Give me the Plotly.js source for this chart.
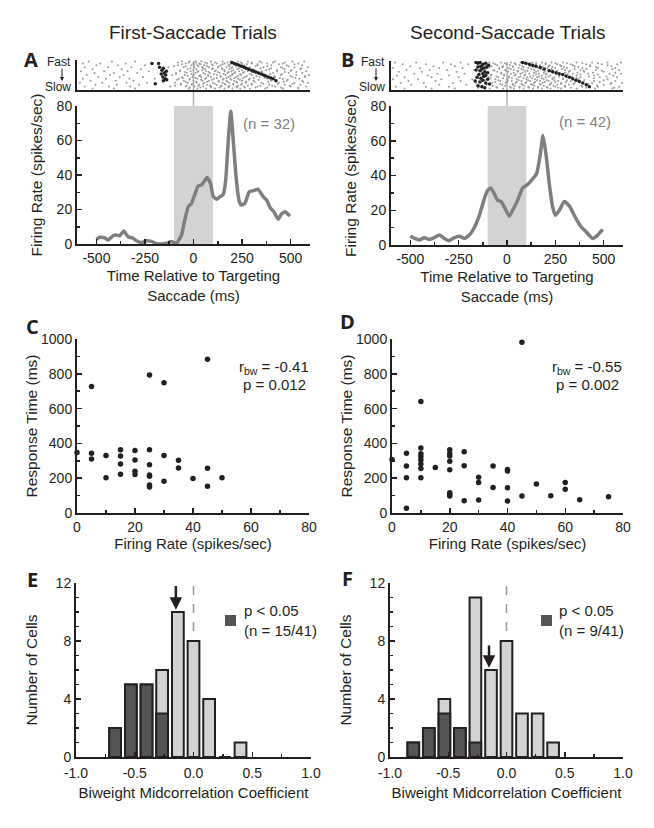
<!DOCTYPE html>
<html><head><meta charset="utf-8">
<script src="https://cdn.plot.ly/plotly-3.0.1.min.js"></script>
<style>body{margin:0;background:#fff}#chart{width:654px;height:828px}</style>
</head><body><div id="chart"></div>
<script>
// ---------- DATA ----------
// PSTH, first-saccade trials (A)
const timeA = [-500,-483,-457,-440,-414,-397,-380,-359,-337,-314,-294,-268,-242,-216,-191,-165,-139,-113,-88,-62,-45,-27,-10,7,24,41,50,70,88,101,119,136,153,165,178,192,206,220,235,247,265,287,308,333,359,376,397,414,436,453,471,497];
const rateA = [2.7,3.9,3.5,2.3,4.8,5.2,4.8,7.5,4.2,3.5,1.9,0.8,1.9,1.5,0.2,0,0.4,1.4,0.4,5.2,13.9,21.6,23.6,28.8,33.6,34.2,35.5,38.6,35,27.8,25.9,27.4,28.8,36,58,77,58,38,25,22.6,23.6,30.3,30.9,31.7,27.4,25.5,20.7,18.7,14.3,17.4,18.7,16.2];
// PSTH, second-saccade trials (B)
const timeB = [-500,-474,-453,-428,-402,-376,-350,-324,-302,-272,-247,-221,-195,-169,-143,-117,-100,-83,-66,-48,-31,-14,12,29,55,81,107,133,153,172,186,202,219,236,250,271,297,322,357,383,409,443,469,495];
const rateB = [5.1,3.6,2.9,4.2,3.2,4.2,5.7,3.8,2.5,4.2,5.1,3.8,5.7,10.1,17.1,26.7,31.4,32.8,29.5,25.7,25.1,21.9,16.6,20,25.7,32.8,34.9,38.1,41,52,63,52,35,21.9,17.1,20,25.1,22.5,15.2,10.5,7.6,3.8,5.7,9];

// Raster rows (trial index, fast at top) and spike times (ms)
const rasterRows = [1,3,5,7,9,11,13,15,17,19,21,23,25,27,29];
const rasterRows2 = [2,4,6,8,10,12,14,16,18,20,22,24,26,28];
const spikesA = [
 [-540,-420,-300,-60,-20,10,40,90,150,190,230,280,340,420,510,570],
 [-570,-480,-350,-210,-40,0,30,70,120,160,205,250,300,380,460,540],
 [-500,-390,-250,-80,-10,20,55,100,140,180,215,260,330,400,480,560],
 [-560,-440,-320,-130,-50,5,45,80,125,170,200,240,290,360,450,520,590],
 [-520,-370,-270,-30,15,60,95,150,185,225,270,310,390,470,550],
 [-580,-460,-340,-230,-70,-15,25,65,110,160,195,235,280,350,430,500,580],
 [-510,-410,-290,-90,-35,10,50,85,135,175,210,255,320,410,490,560],
 [-550,-430,-360,-110,-45,0,35,75,120,165,200,245,300,370,450,530,595],
 [-490,-380,-260,-60,-5,40,90,140,180,220,265,340,420,510,575],
 [-570,-450,-330,-200,-75,-20,20,60,105,155,190,230,290,380,460,545],
 [-530,-400,-310,-50,0,45,80,130,170,210,250,310,400,480,560],
 [-585,-470,-345,-240,-95,-30,15,55,100,150,185,225,270,350,440,520,590],
 [-505,-395,-280,-65,-10,30,70,120,165,205,245,300,390,470,550],
 [-560,-435,-325,-120,-40,5,50,90,140,180,220,260,330,420,500,580],
 [-520,-410,-300,-25,20,65,110,160,200,240,290,370,460,540]
];
const spikesA2 = [
 [-80,-25,15,60,110,175,205,245,300,350,410,470],
 [-60,5,35,95,150,190,230,275,330,440,520],
 [-100,-40,25,70,130,185,220,265,320,380,490],
 [-15,50,100,145,195,235,285,345,400,460,555],
 [-70,0,45,115,160,205,250,315,375,430,505],
 [-45,20,80,125,180,215,260,300,355,470,530],
 [-90,-10,60,105,155,200,240,290,340,395,455],
 [-30,30,75,140,190,230,275,325,415,500,575],
 [-55,10,65,120,170,210,255,310,365,445,525],
 [-85,-20,40,95,150,195,240,285,335,420,485],
 [-40,15,70,130,175,220,270,315,385,465,565],
 [-65,-5,50,110,160,205,250,300,360,435,510],
 [-95,-35,25,85,145,185,230,280,345,405,495],
 [-20,35,90,135,180,225,265,320,380,450,540]
];
const spikesB = [
 [-580,-470,-330,-240,-160,-90,-30,20,70,130,180,230,290,360,440,520,590],
 [-540,-420,-290,-200,-120,-60,0,45,100,150,200,260,330,410,490,570],
 [-500,-380,-270,-140,-80,-20,30,80,120,170,215,280,350,430,540],
 [-590,-450,-350,-230,-100,-40,10,60,110,160,210,250,310,390,470,560],
 [-520,-400,-310,-170,-70,-10,35,85,140,185,235,300,380,460,580],
 [-560,-440,-260,-130,-50,5,55,95,150,195,240,320,400,500],
 [-480,-360,-220,-110,-30,20,70,115,165,205,255,340,420,530,590],
 [-570,-410,-300,-150,-85,-15,40,90,135,180,225,270,360,450,550],
 [-530,-390,-250,-95,-45,10,60,105,155,200,245,310,380,480,570],
 [-590,-460,-340,-180,-60,0,50,100,145,190,235,290,370,520],
 [-510,-370,-240,-125,-35,25,75,120,170,215,265,330,450,560],
 [-550,-430,-280,-160,-75,-5,45,95,140,185,230,280,350,440,540,595],
 [-495,-350,-210,-105,-25,30,80,130,175,220,260,320,410,500],
 [-575,-420,-300,-145,-55,15,65,110,160,205,250,300,390,470,580],
 [-530,-390,-270,-90,-20,35,85,135,180,225,280,360,455,545]
];
const spikesB2 = [
 [-140,-70,-10,40,90,150,200,250,310,390,470],
 [-120,-50,15,65,115,170,220,275,340,430,520],
 [-155,-90,-25,30,85,135,185,235,295,370,460],
 [-110,-40,20,75,125,175,230,285,350,410,545],
 [-135,-65,-5,55,105,160,210,260,325,395,490],
 [-100,-30,35,80,140,190,240,300,365,445,560],
 [-145,-80,-15,45,95,150,200,255,315,380,470],
 [-125,-55,10,70,120,165,215,270,335,425,515],
 [-150,-85,-20,25,85,130,180,235,290,360,450],
 [-115,-45,5,60,110,155,205,245,310,400,500],
 [-140,-60,0,50,100,145,195,250,305,375,480],
 [-105,-35,30,75,125,170,225,280,345,420,535],
 [-130,-75,-10,40,90,140,190,240,300,385,465],
 [-150,-50,20,65,115,160,210,265,330,410,555]
];
// Saccade markers in raster (black)
const markA_t = [-214,-180,-175,-163,-155,-151,-143,-158,-146,-155,-197,-138,-166,-140,198,210,222,235,248,260,272,285,298,310,322,335,348,360,372,385,398,410,425];
const markA_r = [3,3,7,10,8,13,15,17,19,21,24,20,14,11,2,3,4,5,6,7,8,9,10,11,12,13,14,15,16,17,18,19,21];
const markB_t = [-160,-150,-140,-125,-110,-95,-150,-135,-120,-105,-160,-140,-130,-115,-100,-145,-125,-110,-155,-135,-120,-100,-165,-140,-125,-110,-90,-150,-130,-115,81,98,116,133,150,172,193,219,236,254,270,288,305,323,340,357,374,392,410,426];
const markB_r = [1,2,1,3,2,4,6,5,7,6,9,10,8,11,12,14,13,15,17,18,16,19,21,22,20,23,24,26,27,28,1,2,3,4,5,6.5,8,10,11,12,13,14,15.5,17,18.5,20,21.5,23,25,27];

// Scatter C (first saccade): firing rate vs response time
const rateC = [0,5,5,5,10,10,15,15,15,15,20,20,20,20,25,25,25,25,25,25,25,30,30,30,35,35,40,45,45,45,50];
const rtC   = [347,727,344,311,330,202,363,328,282,223,359,305,240,221,793,363,278,219,211,161,150,749,330,182,303,259,198,883,257,154,203];
// Scatter D (second saccade)
const rateD = [0,5,5,5,5,10,10,10,10,10,10,10,10,15,20,20,20,20,20,20,20,20,25,25,25,30,30,30,35,35,40,40,40,40,45,45,50,55,60,60,65,75];
const rtD   = [308,344,270,203,27,641,373,340,323,304,281,256,203,262,363,340,327,298,249,117,107,98,352,272,71,206,176,75,270,147,250,241,145,69,981,98,166,99,176,136,76,94];

// Histograms E/F: bin centres, total counts, significant (p<0.05) counts
const binsE = [-0.667,-0.533,-0.4,-0.267,-0.133,0,0.133,0.267,0.4];
const totalE = [2,5,5,6,10,8,4,0,1];
const sigE   = [2,5,5,3,0,0,0,0,0];
const binsF = [-0.8,-0.667,-0.533,-0.4,-0.267,-0.133,0,0.133,0.267,0.4];
const totalF = [1,2,4,2,11,6,8,3,3,1];
const sigF   = [1,2,3,2,1,0,0,0,0,0];
const medianE = -0.15, medianF = -0.15;

// Tick labels
const timeTicks = [-500,-250,0,250,500];
const timeTickText = ['-500','-250','0','250','500'];
const coefTicks = [-1,-0.5,0,0.5,1];
const coefTickText = ['-1.0','-0.5','0.0','0.5','1.0'];

// ---------- LAYOUT HELPERS ----------
const W = 654, H = 828;
const px = p => p / W;
const py = p => 1 - p / H;
const INK = '#231f20';
const FONT = 'Liberation Sans, Arial, sans-serif';

function flatRaster(rowSets) {
  const xs = [], ys = [];
  rowSets.forEach(([rows, spikes]) =>
    spikes.forEach((r, i) => r.forEach(t => { xs.push(t); ys.push(rows[i]); })));
  return {xs, ys};
}
const rA = flatRaster([[rasterRows, spikesA], [rasterRows2, spikesA2]]);
const rB = flatRaster([[rasterRows, spikesB], [rasterRows2, spikesB2]]);

const baseAxis = {
  showline: true, linecolor: INK, linewidth: 2, showgrid: false, zeroline: false,
  ticks: 'inside', ticklen: 5, tickwidth: 1.5, tickcolor: INK,
  tickfont: {family: FONT, size: 14, color: INK}, automargin: false, fixedrange: true
};
function ax(o) { return Object.assign({}, baseAxis, o); }
const titleFont = {family: FONT, size: 15, color: INK};
const yTitleFont = {family: FONT, size: 15.5, color: INK};

const traces = [
  // A raster
  {x: rA.xs, y: rA.ys, xaxis: 'x', yaxis: 'y', type: 'scatter', mode: 'markers',
   marker: {size: 2, color: '#9a9a9a'}, hoverinfo: 'skip'},
  {x: markA_t, y: markA_r, xaxis: 'x', yaxis: 'y', type: 'scatter', mode: 'markers',
   marker: {size: 3.5, color: INK}, hoverinfo: 'skip'},
  // A PSTH
  {x: timeA, y: rateA, xaxis: 'x2', yaxis: 'y2', type: 'scatter', mode: 'lines',
   line: {color: '#7f7f7f', width: 3.5, shape: 'spline', smoothing: 0.5}},
  // B raster
  {x: rB.xs, y: rB.ys, xaxis: 'x3', yaxis: 'y3', type: 'scatter', mode: 'markers',
   marker: {size: 2, color: '#9a9a9a'}, hoverinfo: 'skip'},
  {x: markB_t, y: markB_r, xaxis: 'x3', yaxis: 'y3', type: 'scatter', mode: 'markers',
   marker: {size: 3.5, color: INK}, hoverinfo: 'skip'},
  // B PSTH
  {x: timeB, y: rateB, xaxis: 'x4', yaxis: 'y4', type: 'scatter', mode: 'lines',
   line: {color: '#7f7f7f', width: 3.5, shape: 'spline', smoothing: 0.5}},
  // C scatter
  {x: rateC, y: rtC, xaxis: 'x5', yaxis: 'y5', type: 'scatter', mode: 'markers',
   marker: {size: 5.5, color: INK}, cliponaxis: false},
  // D scatter
  {x: rateD, y: rtD, xaxis: 'x6', yaxis: 'y6', type: 'scatter', mode: 'markers',
   marker: {size: 5.5, color: INK}, cliponaxis: false},
  // E histogram (total, then significant overlaid)
  {x: binsE, y: totalE, xaxis: 'x7', yaxis: 'y7', type: 'bar', width: 0.1,
   marker: {color: '#d1d3d4', line: {color: INK, width: 2}}},
  {x: binsE, y: sigE, xaxis: 'x7', yaxis: 'y7', type: 'bar', width: 0.1,
   marker: {color: '#555555', line: {color: INK, width: 2}}},
  // F histogram
  {x: binsF, y: totalF, xaxis: 'x8', yaxis: 'y8', type: 'bar', width: 0.1,
   marker: {color: '#d1d3d4', line: {color: INK, width: 2}}},
  {x: binsF, y: sigF, xaxis: 'x8', yaxis: 'y8', type: 'bar', width: 0.1,
   marker: {color: '#555555', line: {color: INK, width: 2}}}
];

const rasterX = dom => ax({domain: dom, range: [-600, 600], ticks: '', showticklabels: false});
const rasterY = (dom, anchor) => ax({domain: dom, range: [30.5, -0.5], ticks: '', showticklabels: false, anchor});

const layout = {
  width: W, height: H, margin: {l: 0, r: 0, t: 0, b: 0},
  paper_bgcolor: '#fff', plot_bgcolor: 'rgba(0,0,0,0)',
  showlegend: false, barmode: 'overlay', font: {family: FONT, color: INK},
  // A raster
  xaxis: rasterX([px(77), px(310)]),
  yaxis: rasterY([py(90), py(60)], 'x'),
  // A PSTH
  xaxis2: ax({domain: [px(77), px(310)], anchor: 'y2', range: [-600, 600],
    tickvals: timeTicks, ticktext: timeTickText,
    minor: {ticks: 'inside', ticklen: 3, tickvals: [-600,-375,-125,125,375,600], tickcolor: INK},
    title: {text: 'Time Relative to Targeting<br>Saccade (ms)', font: titleFont, standoff: 6}}),
  yaxis2: ax({domain: [py(244), py(106)], anchor: 'x2', range: [0, 80], dtick: 20,
    minor: {ticks: 'inside', ticklen: 3, dtick: 10, tickcolor: INK},
    title: {text: 'Firing Rate (spikes/sec)', font: yTitleFont, standoff: 10}}),
  // B raster
  xaxis3: rasterX([px(391), px(623)]),
  yaxis3: rasterY([py(90), py(61)], 'x3'),
  // B PSTH
  xaxis4: ax({domain: [px(391), px(623)], anchor: 'y4', range: [-600, 600],
    tickvals: timeTicks, ticktext: timeTickText,
    minor: {ticks: 'inside', ticklen: 3, tickvals: [-600,-375,-125,125,375,600], tickcolor: INK},
    title: {text: 'Time Relative to Targeting<br>Saccade (ms)', font: titleFont, standoff: 6}}),
  yaxis4: ax({domain: [py(245), py(106)], anchor: 'x4', range: [0, 80], dtick: 20,
    minor: {ticks: 'inside', ticklen: 3, dtick: 10, tickcolor: INK},
    title: {text: 'Firing Rate (spikes/sec)', font: yTitleFont, standoff: 10}}),
  // C scatter
  xaxis5: ax({domain: [px(77), px(309)], anchor: 'y5', range: [0, 80], dtick: 20,
    minor: {ticks: 'inside', ticklen: 3, dtick: 10, tickcolor: INK},
    title: {text: 'Firing Rate (spikes/sec)', font: titleFont, standoff: 0}}),
  yaxis5: ax({domain: [py(513), py(339)], anchor: 'x5', range: [0, 1000], dtick: 200,
    minor: {ticks: 'inside', ticklen: 3, dtick: 100, tickcolor: INK},
    title: {text: 'Response Time (ms)', font: yTitleFont, standoff: 0}}),
  // D scatter
  xaxis6: ax({domain: [px(392), px(623)], anchor: 'y6', range: [0, 80], dtick: 20,
    minor: {ticks: 'inside', ticklen: 3, dtick: 10, tickcolor: INK},
    title: {text: 'Firing Rate (spikes/sec)', font: titleFont, standoff: 0}}),
  yaxis6: ax({domain: [py(513), py(339)], anchor: 'x6', range: [0, 1000], dtick: 200,
    minor: {ticks: 'inside', ticklen: 3, dtick: 100, tickcolor: INK},
    title: {text: 'Response Time (ms)', font: yTitleFont, standoff: 0}}),
  // E histogram
  xaxis7: ax({domain: [px(76), px(311)], anchor: 'y7', range: [-1, 1],
    tickvals: coefTicks, ticktext: coefTickText, ticklabelstandoff: 2,
    minor: {ticks: 'inside', ticklen: 3, dtick: 0.25, tickcolor: INK},
    title: {text: 'Biweight Midcorrelation Coefficient', font: titleFont, standoff: 8}}),
  yaxis7: ax({domain: [py(757), py(583)], anchor: 'x7', range: [0, 12], dtick: 4,
    minor: {ticks: 'inside', ticklen: 3, dtick: 1, tickcolor: INK},
    title: {text: 'Number of Cells', font: yTitleFont, standoff: 14}}),
  // F histogram
  xaxis8: ax({domain: [px(390), px(623)], anchor: 'y8', range: [-1, 1],
    tickvals: coefTicks, ticktext: coefTickText, ticklabelstandoff: 2,
    minor: {ticks: 'inside', ticklen: 3, dtick: 0.25, tickcolor: INK},
    title: {text: 'Biweight Midcorrelation Coefficient', font: titleFont, standoff: 8}}),
  yaxis8: ax({domain: [py(757), py(583)], anchor: 'x8', range: [0, 12], dtick: 4,
    minor: {ticks: 'inside', ticklen: 3, dtick: 1, tickcolor: INK},
    title: {text: 'Number of Cells', font: yTitleFont, standoff: 14}}),
  shapes: [
    // saccade window shading
    {type: 'rect', xref: 'x2', yref: 'y2', x0: -100, x1: 100, y0: 0, y1: 80, fillcolor: '#d1d3d4', line: {width: 0}, layer: 'below'},
    {type: 'rect', xref: 'x4', yref: 'y4', x0: -100, x1: 100, y0: 0, y1: 80, fillcolor: '#d1d3d4', line: {width: 0}, layer: 'below'},
    // saccade onset lines
    {type: 'line', xref: 'x2', yref: 'paper', x0: 0, x1: 0, y0: py(244), y1: py(61), line: {color: '#b3b3b3', width: 1.5}, layer: 'below'},
    {type: 'line', xref: 'x4', yref: 'paper', x0: 0, x1: 0, y0: py(245), y1: py(62), line: {color: '#b3b3b3', width: 1.5}, layer: 'below'},
    // zero lines in histograms
    {type: 'line', xref: 'x7', yref: 'y7', x0: 0, x1: 0, y0: 0, y1: 12, line: {color: '#999', width: 1.5, dash: 'dash'}, layer: 'below'},
    {type: 'line', xref: 'x8', yref: 'y8', x0: 0, x1: 0, y0: 0, y1: 12, line: {color: '#999', width: 1.5, dash: 'dash'}, layer: 'below'},
    // legend swatches
    {type: 'rect', xref: 'paper', yref: 'paper', x0: px(225), x1: px(236), y0: py(626), y1: py(615), fillcolor: '#555555', line: {width: 0}},
    {type: 'rect', xref: 'paper', yref: 'paper', x0: px(541), x1: px(552), y0: py(626), y1: py(615), fillcolor: '#555555', line: {width: 0}}
  ],
  annotations: []
};

const A = layout.annotations;
function txt(x, y, text, size, opts) {
  A.push(Object.assign({xref: 'paper', yref: 'paper', x: px(x), y: py(y), text, showarrow: false,
    xanchor: 'center', yanchor: 'middle', font: {family: FONT, size, color: INK}}, opts || {}));
}
txt(193, 33, 'First-Saccade Trials', 19);
txt(507, 33, 'Second-Saccade Trials', 19);
const letterFont = {family: 'Open Sans, Liberation Sans, sans-serif', size: 20, color: INK, weight: 'bold'};
txt(31, 60, '<b>A</b>', 20, {font: letterFont});
txt(347, 60, '<b>B</b>', 20, {font: letterFont});
txt(32, 326, '<b>C</b>', 20, {font: letterFont});
txt(347, 322, '<b>D</b>', 20, {font: letterFont});
txt(32, 579, '<b>E</b>', 20, {font: letterFont});
txt(347, 578, '<b>F</b>', 20, {font: letterFont});
// Fast / Slow labels
txt(73, 62, 'Fast', 12, {xanchor: 'right'});
txt(73, 87, 'Slow', 12, {xanchor: 'right'});
txt(387, 62, 'Fast', 12, {xanchor: 'right'});
txt(387, 87, 'Slow', 12, {xanchor: 'right'});
[[62], [376]].forEach(([x]) => A.push({xref: 'paper', yref: 'paper', x: px(x), y: py(81), ax: 0, ay: -14,
  text: '', showarrow: true, arrowhead: 2, arrowsize: 0.8, arrowwidth: 1, arrowcolor: INK}));
// n labels
txt(269, 123, '(n = 32)', 15, {font: {family: FONT, size: 15, color: '#808080'}});
txt(585, 122, '(n = 42)', 15, {font: {family: FONT, size: 15, color: '#808080'}});
// correlation text
txt(274, 367, 'r<sub>bw</sub> = -0.41', 15);
txt(274, 384, 'p = 0.012', 15);
txt(587, 367, 'r<sub>bw</sub> = -0.55', 15);
txt(587, 384, 'p = 0.002', 15);
// legends
txt(242, 610, 'p < 0.05', 15, {xanchor: 'left'});
txt(242, 630, '(n = 15/41)', 15, {xanchor: 'left'});
txt(557, 610, 'p < 0.05', 15, {xanchor: 'left'});
txt(557, 630, '(n = 9/41)', 15, {xanchor: 'left'});
// median arrows
A.push({xref: 'x7', yref: 'y7', axref: 'x7', ayref: 'y7', x: medianE, y: 10.15, ax: medianE, ay: 11.9,
  text: '', showarrow: true, arrowhead: 2, arrowsize: 1, arrowwidth: 2.5, arrowcolor: INK});
A.push({xref: 'x8', yref: 'y8', axref: 'x8', ayref: 'y8', x: medianF, y: 6.15, ax: medianF, ay: 7.8,
  text: '', showarrow: true, arrowhead: 2, arrowsize: 1, arrowwidth: 2.5, arrowcolor: INK});

Plotly.newPlot('chart', traces, layout, {displayModeBar: false, staticPlot: true});
</script>
</body></html>
